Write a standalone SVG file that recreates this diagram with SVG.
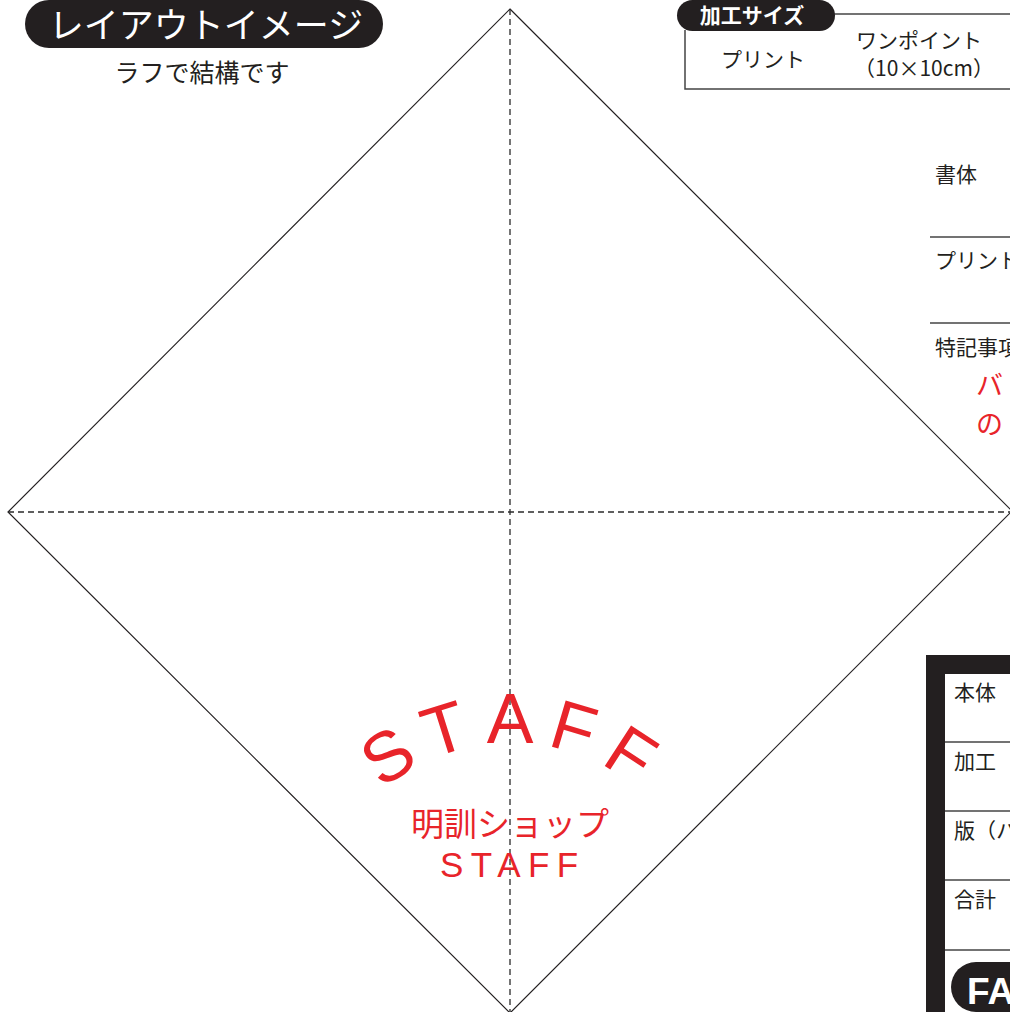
<svg xmlns="http://www.w3.org/2000/svg" width="1010" height="1012" viewBox="0 0 1010 1012">
<style>
.jp{font-family:"Noto Sans CJK JP","Noto Sans",sans-serif}
.lbl{font-family:"Noto Sans CJK JP","Noto Sans",sans-serif;font-size:21px;fill:#231f20}
.red{fill:#e8242a}
.dash{stroke:#2a2a2a;stroke-width:1.3;stroke-dasharray:6 4;fill:none}
.rule{stroke:#444;stroke-width:1.5;fill:none}
.arc{font-family:"Liberation Sans",Arial,sans-serif;font-size:70px;fill:#e8242a;text-anchor:middle}
</style>
<rect width="1010" height="1012" fill="#fff"/>
<g id="connectors">
<polygon points="510,9 1012,511 510,1013 8,512" fill="none" stroke="#231f20" stroke-width="1.2"/>
<line class="dash" x1="510" y1="9" x2="510" y2="1013"/>
<line class="dash" x1="8" y1="512" x2="1012" y2="512"/>
</g>
<g id="title">
<rect x="25" y="0" width="358" height="48" rx="24" fill="#231f20"/>
<text class="jp" x="206" y="38" font-size="35" fill="#fff" text-anchor="middle">レイアウトイメージ</text>
<text class="jp" x="202" y="82" font-size="25" fill="#231f20" text-anchor="middle">ラフで結構です</text>
</g>
<g id="size-box">
<polyline class="rule" points="833,14 1012,14"/>
<polyline class="rule" points="685,30 685,89 1012,89"/>
<rect x="677" y="0" width="158" height="31" rx="15.5" fill="#231f20"/>
<text class="jp" x="752" y="23" font-size="21" font-weight="bold" fill="#fff" text-anchor="middle">加工サイズ</text>
<text class="lbl" x="763" y="67" text-anchor="middle">プリント</text>
<text class="lbl" x="919" y="48" font-size="20" text-anchor="middle">ワンポイント</text>
<text class="lbl" x="924" y="76" font-size="20" text-anchor="middle">（10×10cm）</text>
</g>
<g id="spec">
<text class="lbl" x="935" y="182">書体</text>
<line class="rule" x1="930" y1="237" x2="1012" y2="237"/>
<text class="lbl" x="935" y="268">プリント</text>
<line class="rule" x1="930" y1="323" x2="1012" y2="323"/>
<text class="lbl" x="935" y="355">特記事項</text>
<text class="jp red" x="976" y="395" font-size="27">バ</text>
<text class="jp red" x="976" y="434" font-size="27">の</text>
</g>
<g id="price">
<rect x="926" y="655" width="200" height="400" fill="#231f20"/>
<rect x="945" y="674" width="200" height="400" fill="#fff"/>
<text class="lbl" x="954" y="700">本体</text>
<line class="rule" x1="945" y1="742" x2="1012" y2="742"/>
<text class="lbl" x="954" y="769">加工</text>
<line class="rule" x1="945" y1="811" x2="1012" y2="811"/>
<text class="lbl" x="954" y="838">版（ハ</text>
<line class="rule" x1="945" y1="880" x2="1012" y2="880"/>
<text class="lbl" x="954" y="907">合計</text>
<line class="rule" x1="945" y1="950" x2="1012" y2="950"/>
<rect x="951" y="962" width="120" height="50" rx="25" fill="#231f20"/>
<text x="967" y="1004" font-family="Liberation Sans,Arial,sans-serif" font-size="37" font-weight="bold" fill="#fff">FA</text>
</g>
<g id="design">
<text class="arc" transform="translate(401,776) rotate(-34)">S</text>
<text class="arc" transform="translate(451.4,752) rotate(-17.5)">T</text>
<text class="arc" transform="translate(510,743)">A</text>
<text class="arc" transform="translate(567,751) rotate(16.5)">F</text>
<text class="arc" transform="translate(618,774.5) rotate(33)">F</text>
<text class="jp red" x="510" y="836" font-size="33" text-anchor="middle">明訓ショップ</text>
<text class="red" x="440" y="877" font-family="Liberation Sans,Arial,sans-serif" font-size="35" letter-spacing="7.5">STAFF</text>
</g>
</svg>
